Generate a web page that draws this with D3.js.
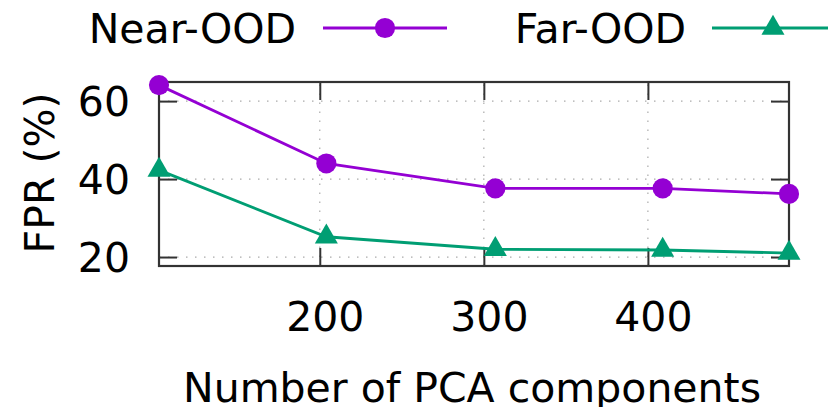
<!DOCTYPE html>
<html>
<head>
<meta charset="utf-8">
<script src="https://cdn.jsdelivr.net/npm/d3@7"></script>
<style>
    body { margin: 0; background: #fff; }
    svg { display: block; }
    text { font-family: "DejaVu Sans", sans-serif; fill: #000; }
</style>
</head>
<body>
<div id="grafico"></div>
<script>
// dados
const components = [102, 204, 307, 409, 486];
const nearOOD = [64.1, 44.0, 37.6, 37.6, 36.2];
const farOOD = [42.3, 25.2, 22.0, 21.8, 21.0];
const xTicks = [200, 300, 400];
const yTicks = [20, 40, 60];
const seriesNames = ['Near-OOD', 'Far-OOD'];

const width = 828;
const height = 407;
const margin = { top: 82, right: 39, bottom: 141, left: 159 };
const fontSize = 41;
const tickLen = 18;

const svg = d3.select('#grafico').append('svg')
    .attr('width', width)
    .attr('height', height);

const x = d3.scaleLinear()
    .domain([102, 486])
    .range([margin.left, width - margin.right]);

const y = d3.scaleLinear()
    .domain([17.7, 64.9])
    .range([height - margin.bottom, margin.top]);

const x0 = x.range()[0], x1 = x.range()[1];
const y0 = y.range()[0], y1 = y.range()[1];

// grade pontilhada
const grid = svg.append('g')
    .attr('stroke', '#aaa')
    .attr('stroke-width', 1.2)
    .attr('stroke-dasharray', '1.5,7.5');

grid.selectAll('.gx')
    .data(xTicks)
    .enter().append('line')
    .attr('x1', d => x(d)).attr('x2', d => x(d))
    .attr('y1', y0).attr('y2', y1);

grid.selectAll('.gy')
    .data(yTicks)
    .enter().append('line')
    .attr('x1', x0).attr('x2', x1)
    .attr('y1', d => y(d)).attr('y2', d => y(d));

// eixos com ticks para dentro (espelhados)
function estiloEixo(g) {
    g.select('.domain').remove();
    g.selectAll('.tick line').attr('stroke', '#333').attr('stroke-width', 2);
    g.selectAll('.tick text')
        .style('font-size', fontSize + 'px')
        .style('font-family', '"DejaVu Sans", sans-serif')
        .attr('fill', '#000');
}

svg.append('g')
    .attr('transform', `translate(0,${y0})`)
    .call(d3.axisBottom(x).tickValues(xTicks).tickSize(-tickLen).tickPadding(0))
    .call(estiloEixo)
    .call(g => g.selectAll('.tick text').attr('y', 0).attr('dy', null)
        .attr('transform', `translate(5,${331 - y0})`));

svg.append('g')
    .attr('transform', `translate(0,${y1})`)
    .call(d3.axisTop(x).tickValues(xTicks).tickSize(-tickLen).tickFormat(''))
    .call(estiloEixo);

svg.append('g')
    .attr('transform', `translate(${x0},0)`)
    .call(d3.axisLeft(y).tickValues(yTicks).tickSize(-tickLen).tickPadding(0))
    .call(estiloEixo)
    .call(g => g.selectAll('.tick text').attr('x', 130 - x0).attr('dy', '0.36em'));

svg.append('g')
    .attr('transform', `translate(${x1},0)`)
    .call(d3.axisRight(y).tickValues(yTicks).tickSize(-tickLen).tickFormat(''))
    .call(estiloEixo);

// moldura
svg.append('rect')
    .attr('x', x0).attr('y', y1)
    .attr('width', x1 - x0).attr('height', y0 - y1)
    .attr('fill', 'none')
    .attr('stroke', '#333')
    .attr('stroke-width', 2.2);

// títulos dos eixos
svg.append('text')
    .attr('x', 472).attr('y', 402)
    .attr('text-anchor', 'middle')
    .style('font-size', fontSize + 'px')
    .text('Number of PCA components');

svg.append('text')
    .attr('transform', 'translate(54,173) rotate(-90)')
    .attr('text-anchor', 'middle')
    .style('font-size', fontSize + 'px')
    .text('FPR (%)');

// séries
const series = [
    { name: seriesNames[0], values: nearOOD, color: '#9400d3', symbol: d3.symbolCircle, size: 320,
      legend: { textEnd: 296, lineStart: 323, lineEnd: 447, marker: 385 } },
    { name: seriesNames[1], values: farOOD, color: '#009e73', symbol: d3.symbolTriangle, size: 230,
      legend: { textEnd: 686, lineStart: 712, lineEnd: 840, marker: 773 } }
];

const line = d3.line()
    .x((d, i) => x(components[i]))
    .y(d => y(d));

series.forEach(s => {
    svg.append('path')
        .datum(s.values)
        .attr('fill', 'none')
        .attr('stroke', s.color)
        .attr('stroke-width', 2.8)
        .attr('d', line);

    svg.selectAll(null)
        .data(s.values)
        .enter().append('path')
        .attr('transform', (d, i) => `translate(${x(components[i])},${y(d)})`)
        .attr('d', d3.symbol().type(s.symbol).size(s.size))
        .attr('fill', s.color);

    // legenda
    const legendY = 28;
    svg.append('text')
        .attr('x', s.legend.textEnd).attr('y', 43)
        .attr('text-anchor', 'end')
        .style('font-size', fontSize + 'px')
        .text(s.name);

    svg.append('line')
        .attr('x1', s.legend.lineStart).attr('x2', s.legend.lineEnd)
        .attr('y1', legendY).attr('y2', legendY)
        .attr('stroke', s.color)
        .attr('stroke-width', 2.8);

    svg.append('path')
        .attr('transform', `translate(${s.legend.marker},${legendY})`)
        .attr('d', d3.symbol().type(s.symbol).size(s.size))
        .attr('fill', s.color);
});
</script>
</body>
</html>
